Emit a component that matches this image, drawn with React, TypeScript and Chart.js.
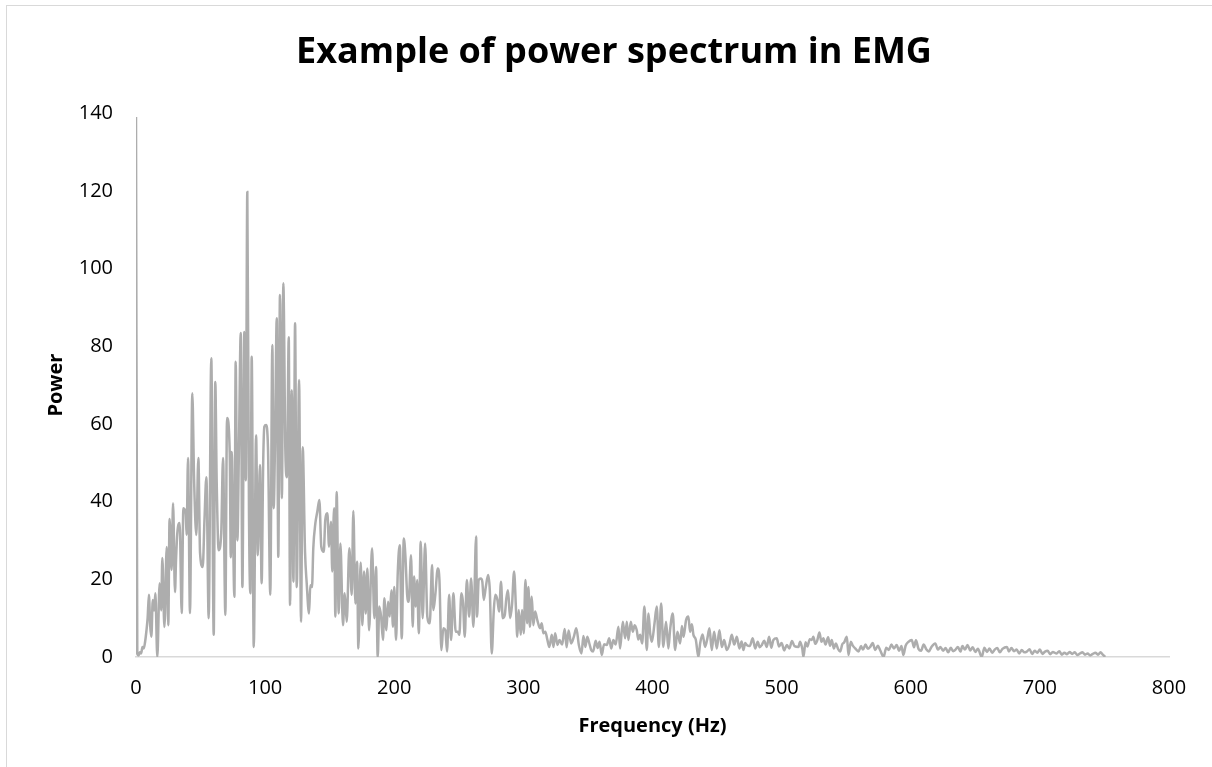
import { useEffect, useRef } from 'react';
import { Chart, registerables } from 'chart.js';

Chart.register(...registerables);

const chartTitle = 'Example of power spectrum in EMG';
const xAxisTitle = 'Frequency (Hz)';
const yAxisTitle = 'Power';
const xTicks = [0, 100, 200, 300, 400, 500, 600, 700, 800];
const yTicks = [0, 20, 40, 60, 80, 100, 120, 140];

// Frequency (Hz) of each spectrum sample
const freqHz = [
  0, 1, 2, 3, 4, 5, 6, 7, 8, 9, 10, 11, 11.9, 13, 14, 15, 16.5, 18.3, 19.5, 20.4,
  22, 23.8, 25, 26, 27.6, 28.7, 30.2, 31, 32, 33.8, 35.4, 36.7, 38.5, 39.2, 40.3, 41.8, 43.6, 45, 46.7, 48.3,
  49.6, 51.7, 53, 54.5, 56.3, 58.3, 60.2, 61.4, 62.5, 64, 66, 67.4, 69.2, 70.5, 72.6, 73.4, 74.1, 76.2, 77.2, 78.5,
  79.8, 81.1, 82.4, 83.9, 85, 86.2, 87.5, 88.6, 89.6, 91.2, 93, 94.3, 96, 97.3, 98.5, 99.4, 100.7, 102.2, 104, 105.6,
  106.6, 107.7, 109, 110.2, 111.5, 113, 114.1, 115.7, 116.9, 118.3, 119.3, 120.6, 121.9, 123.2, 124.5, 126.3, 127.8, 129.1, 130.9, 132.2,
  134, 135, 136.3, 137.3, 138.9, 140.4, 142, 143.5, 145.4, 146.6, 148.2, 149.5, 151, 152, 153.4, 154.4, 155.4, 157, 158.3, 160.3,
  161.6, 163.2, 165.2, 167.1, 168.3, 169.9, 171.2, 172.2, 174, 175.3, 176.6, 177.9, 179.2, 180.5, 182.8, 184.6, 185.9, 187.2, 188.4, 189.8,
  191.3, 192.3, 193.9, 195.2, 196.5, 197.8, 199, 200, 201.4, 202.7, 204.3, 205.8, 207.4, 208.6, 210, 211.2, 213, 214.3, 215.3, 216.7,
  217.7, 219, 220.5, 222, 223.9, 225.6, 227.5, 229.3, 230.3, 231.8, 233.7, 235, 236.5, 238, 239.6, 240.9, 242.5, 244, 245.8, 247.6,
  249.2, 250.4, 252, 253.3, 254.6, 256.2, 258, 259.5, 261.3, 263.4, 264.1, 265.4, 267, 268.2, 269.3, 270.9, 272.7, 274, 275.5, 277.1,
  278.3, 279.9, 281.2, 282.7, 284, 285.6, 286.8, 288.1, 289.7, 291.2, 292.8, 294.3, 295.3, 296.4, 298, 299, 300.3, 301.6, 302.9, 303.9,
  305, 306.5, 307.7, 309.1, 310.8, 312.9, 314.2, 315.5, 317, 318.6, 320.1, 322, 323.3, 324.6, 326.4, 328, 330, 332, 333.5, 335,
  337, 339, 341, 343, 345, 346.5, 348, 349.5, 351, 352.5, 354, 356, 357.5, 359, 360.7, 362.5, 364.6, 366.5, 368, 369.7,
  371.5, 373.6, 374.9, 377, 378.8, 380.1, 381.3, 383.2, 384.7, 386.2, 387.8, 389, 390.4, 392, 393.7, 395.6, 396.9, 398.2, 399.5, 401.5,
  403.3, 404.9, 406.7, 408.4, 410.5, 412.3, 413.6, 415.7, 417.5, 419.3, 421.4, 422.8, 424, 426, 427.8, 429.1, 430.5, 431.7, 433.5, 435.6,
  436.9, 438.8, 440.7, 442.5, 444.1, 445.9, 447.7, 449.8, 451.8, 453.7, 455.5, 457.5, 459.5, 461.4, 463.3, 465.3, 467.3, 469, 470.4, 471.8,
  473, 475.3, 477.6, 479.5, 481.5, 483, 484.7, 486.5, 488.5, 490.3, 492, 493.6, 496.2, 498, 500, 502, 504, 506, 508, 510,
  513, 514.3, 516, 516.9, 518.5, 520, 521.8, 523.3, 524.6, 526, 527.5, 529.3, 530.8, 532.3, 534, 536, 537.5, 538.8, 540.5, 542,
  543.8, 545.3, 547, 548.5, 550.5, 551.8, 553.6, 555, 557, 559.5, 561.5, 563, 565, 566.8, 568.6, 570.5, 572.5, 574.5, 576.5, 579,
  581, 583, 585, 587, 589.1, 591, 592.8, 594.3, 596, 598.2, 600.8, 602.5, 604, 606, 608, 610, 612, 614, 616, 619,
  621, 623, 625, 627, 629, 631, 632.8, 634.4, 636.5, 638.5, 640, 642, 644, 646, 648, 650, 652, 655, 657, 659,
  661, 663, 665, 667, 669, 671, 674.5, 676, 678, 680, 682, 684, 686, 688, 689.9, 692, 694, 696, 698, 700,
  702, 704, 706, 708, 710, 713, 715, 717, 719, 721, 723, 725, 727, 729, 731, 733, 735, 737, 739, 741,
  743, 745, 747, 748.5, 750.6,
];

// Power of each sample, same order as freqHz
const power = [
  139, 0.8, 0.4, 1.2, 0.9, 2.6, 2.2, 3.8, 6.5, 10, 16, 8, 5.2, 14.7, 12, 16.4, 0, 19, 12, 25.5,
  7.7, 28.3, 8.2, 35.5, 22.4, 39.6, 16.7, 25, 31.9, 34.5, 11.3, 38.3, 37, 31.4, 51.2, 11.3, 67.9, 45.5, 31.4, 51.2,
  26.8, 23.2, 35, 46.3, 10, 76.9, 5.7, 70.8, 45, 27.5, 31.9, 51.2, 10.8, 61.5, 52.5, 25.7, 52.8, 15.5, 76, 30,
  55.8, 83.4, 18, 83.7, 45.5, 119.7, 37, 16.4, 77.3, 2.6, 57.1, 26.2, 49.4, 19, 50, 59.3, 59.7, 54, 16, 80.3,
  38.3, 55.8, 87.2, 25.8, 93.2, 40.9, 96.2, 52.5, 46.3, 82.3, 13.4, 68.7, 19.4, 85.9, 18, 71.3, 9.1, 54, 27.1, 19,
  11.2, 18.5, 18, 28, 34.4, 37.4, 40.4, 28.4, 27.1, 35.3, 37, 28.4, 34.8, 22, 38.3, 10.4, 42.5, 11.2, 29.2, 8.2,
  16.4, 9.1, 28, 16, 37.6, 13.8, 24.5, 2.2, 24.3, 8.2, 22, 11.2, 22.8, 6.9, 28, 10, 23.2, 0, 13, 10.4,
  4.4, 15.1, 6.9, 14.2, 10.4, 17.2, 7.8, 18, 4.4, 21.5, 28.8, 4.8, 30.5, 26.2, 16, 14.2, 26.2, 7.8, 20.7, 13,
  19.8, 6.1, 29.7, 10, 29.2, 10.4, 8.7, 23.7, 12.1, 16, 22.8, 19.8, 1.8, 7.4, 6.9, 1.4, 16, 4.4, 16.4, 6.5,
  6.5, 5.7, 16.4, 13.8, 5.2, 19.8, 10.4, 20.2, 7.8, 31, 10.4, 19.8, 20.2, 19.4, 14.7, 18, 21.1, 17.2, 0.9, 12.1,
  16, 14.7, 11.7, 19.4, 10, 10.8, 15.1, 17.2, 10, 13.4, 22, 12.1, 5.2, 12.1, 5.7, 12.1, 6.1, 19.8, 8.7, 18,
  7.8, 15.5, 8.2, 11.7, 9.5, 7.4, 8.7, 6.1, 6.5, 4.4, 2.6, 5.7, 2.6, 6.1, 3.1, 4.4, 3.2, 7.2, 2.5, 6.8,
  3.5, 5.1, 7.4, 3, 0.9, 5.4, 2.6, 5.2, 3.6, 1.8, 1.4, 4.2, 2.3, 3.9, 0.5, 3.3, 3.1, 4.8, 2.2, 4.4,
  3.2, 7.8, 2.2, 9.1, 4.8, 9.1, 4.4, 9.1, 6.5, 8.2, 6.9, 4.5, 5.7, 3.5, 13, 1.8, 11.2, 6, 3.9, 8.5,
  13, 2.6, 13.8, 2.6, 9.1, 2.2, 6.9, 11.2, 1.8, 6.5, 3.5, 8, 5.2, 9.5, 10.4, 6.5, 8.4, 5.7, 4.5, 0,
  3.5, 5.8, 2.6, 4.8, 7.4, 1.8, 6.5, 2.2, 6.9, 2.6, 4.4, 1.8, 3.1, 5.7, 3.2, 5.2, 2.2, 4, 1.8, 3.6,
  3.1, 2.8, 4.8, 2.2, 3.9, 2.5, 3.1, 4.2, 2.6, 5.2, 2.4, 4.4, 4.8, 2.7, 3.6, 1.7, 3.1, 2.2, 4.1, 2.8,
  2.6, 3.9, 2.1, 0, 3.8, 2.7, 4.6, 4.4, 5.2, 3.4, 4.2, 6.3, 3.9, 4.8, 3.2, 5.1, 2.9, 4.4, 2.2, 3.5,
  2, 1.4, 3.3, 3.8, 5.2, 0.5, 3.9, 3, 2.2, 1.4, 2.8, 1.9, 3.2, 2.1, 2.6, 3.6, 1.8, 2.9, 1.6, 0,
  2.4, 1.8, 3.2, 2.2, 3.1, 1.6, 2.8, 0.5, 2.9, 3.9, 4.4, 2.5, 4.3, 2.1, 1.6, 3.2, 2, 1.4, 2.6, 3.5,
  1.9, 2.6, 1.6, 2.3, 1.2, 2.4, 1.5, 1.8, 2.6, 1.4, 2.8, 1.9, 3.1, 1.7, 2.5, 1.3, 2.1, 0, 2.4, 1.3,
  2.2, 1.1, 1.9, 2.3, 1.2, 2.1, 2.6, 1.4, 2.3, 1.5, 1.9, 0.9, 1.8, 1.2, 1.4, 2, 0.8, 1.6, 1.1, 1.9,
  0.8, 1.4, 1.6, 0.7, 1.3, 0.9, 1.5, 0.6, 1.1, 0.7, 1.3, 0.8, 1.2, 0.5, 0.9, 1.2, 0.6, 0.9, 0.4, 0.8,
  1.1, 0.6, 1.2, 0.7, 0,
];

const FONT = "'Open Sans', 'DejaVu Sans', sans-serif";
const CANVAS_W = 1228;
const CANVAS_H = 767;

export default function App() {
  const canvasRef = useRef<HTMLCanvasElement | null>(null);

  useEffect(() => {
    const canvas = canvasRef.current;
    if (!canvas) return;
    const points = freqHz.map((f, i) => ({ x: f, y: power[i] }));
    const chart = new Chart(canvas, {
      type: 'line',
      data: {
        datasets: [
          {
            data: points,
            borderColor: '#ADADAD',
            borderWidth: 2.5,
            pointRadius: 0,
            pointHoverRadius: 0,
            fill: false,
            cubicInterpolationMode: 'monotone',
            yAxisID: 'y',
            xAxisID: 'x',
          },
        ],
      },
      options: {
        responsive: false,
        animation: false,
        events: [],
        layout: { padding: 0 },
        plugins: {
          legend: { display: false },
          tooltip: { enabled: false },
          title: {
            display: true,
            text: chartTitle,
            color: '#000000',
            font: { family: FONT, size: 36, weight: 'bold', lineHeight: 1.2 },
            padding: { top: 31, bottom: 39 },
          },
        },
        scales: {
          x: {
            type: 'linear',
            min: 0,
            max: 800,
            afterFit: (scale: any) => {
              scale.height = 110;
            },
            afterBuildTicks: (scale: any) => {
              scale.ticks = xTicks.map((v) => ({ value: v }));
            },
            grid: { display: false, drawTicks: false },
            border: { display: true, color: '#D9D9D9', width: 1.5 },
            ticks: {
              color: '#000000',
              font: { family: FONT, size: 20, lineHeight: 1.2 },
              padding: 19.5,
              maxRotation: 0,
              autoSkip: false,
            },
            title: {
              display: true,
              text: xAxisTitle,
              color: '#000000',
              font: { family: FONT, size: 20, weight: 'bold', lineHeight: 1.2 },
              padding: { top: 0, bottom: 28.5 },
            },
          },
          y: {
            type: 'linear',
            position: 'left',
            min: 0,
            max: 140,
            afterFit: (scale: any) => {
              scale.width = 136;
            },
            afterBuildTicks: (scale: any) => {
              scale.ticks = yTicks.map((v) => ({ value: v }));
            },
            grid: { display: false, drawTicks: false },
            border: { display: false },
            ticks: {
              color: '#000000',
              font: { family: FONT, size: 20, lineHeight: 1.2 },
              padding: 23,
              autoSkip: false,
            },
            title: {
              display: true,
              text: yAxisTitle,
              color: '#000000',
              font: { family: FONT, size: 20, weight: 'bold', lineHeight: 1.2 },
              padding: { top: 44, bottom: 0 },
            },
          },
          rightSpace: {
            type: 'linear',
            position: 'right',
            afterFit: (scale: any) => {
              scale.width = CANVAS_W - 1169;
            },
            grid: { display: false, drawTicks: false },
            border: { display: false },
            ticks: { display: false },
          },
        },
      },
    });
    return () => {
      chart.destroy();
    };
  }, []);

  return (
    <div
      style={{
        position: 'absolute',
        left: 0,
        top: 0,
        width: 1212,
        height: 767,
        overflow: 'hidden',
        background: '#ffffff',
      }}
    >
      <div
        style={{
          position: 'absolute',
          left: 6,
          top: 5,
          width: 1240,
          height: 800,
          border: '1px solid #D9D9D9',
          pointerEvents: 'none',
        }}
      />
      <canvas
        ref={canvasRef}
        width={CANVAS_W}
        height={CANVAS_H}
        style={{ position: 'absolute', left: 0, top: 0, width: CANVAS_W, height: CANVAS_H }}
      />
    </div>
  );
}
